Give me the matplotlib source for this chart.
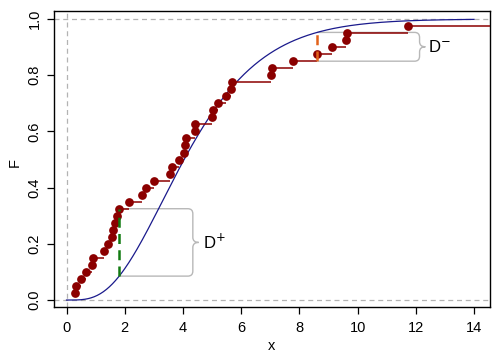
import matplotlib
matplotlib.use("Agg")
import matplotlib.pyplot as plt
from matplotlib.path import Path
from matplotlib.patches import PathPatch
import numpy as np

plt.rcParams['font.family'] = ['Liberation Sans', 'DejaVu Sans']

# sample (n = 40, the largest value lies beyond the plotted range)
sample_x = [0.30, 0.34, 0.50, 0.67, 0.87, 0.92, 1.29, 1.42, 1.56, 1.60,
            1.66, 1.72, 1.81, 2.15, 2.60, 2.72, 3.01, 3.56, 3.64, 3.87,
            4.05, 4.08, 4.10, 4.41, 4.43, 5.01, 5.02, 5.19, 5.47, 5.65,
            5.69, 7.03, 7.07, 7.79, 8.61, 9.13, 9.61, 9.63, 11.74, 15.80]

# fitted gamma model (shape 4)
gamma_shape = 4
gamma_scale = 1.1
curve_range = [0, 14]

# positions (1-based rank) of D+ and D-
d_plus_rank = 13
d_minus_rank = 35

x_ticks = [0, 2, 4, 6, 8, 10, 12, 14]
y_ticks = [0.0, 0.2, 0.4, 0.6, 0.8, 1.0]


def gamma_cdf(x):
    y = np.asarray(x, dtype=float) / gamma_scale
    s = np.zeros_like(y)
    term = np.ones_like(y)
    for k in range(gamma_shape):
        if k > 0:
            term = term * y / k
        s = s + term
    return 1 - np.exp(-y) * s


def draw_brace(ax, x0, x1, y0, y1, rx=0.17, ry=0.018, tip=0.2):
    ym = (y0 + y1) / 2
    verts = [(x0, y1), (x1 - rx, y1), (x1, y1), (x1, y1 - ry),
             (x1, ym + ry), (x1, ym), (x1 + tip, ym),
             (x1, ym), (x1, ym - ry),
             (x1, y0 + ry), (x1, y0), (x1 - rx, y0), (x0, y0)]
    codes = [Path.MOVETO, Path.LINETO, Path.CURVE3, Path.CURVE3,
             Path.LINETO, Path.CURVE3, Path.CURVE3,
             Path.CURVE3, Path.CURVE3,
             Path.LINETO, Path.CURVE3, Path.CURVE3, Path.LINETO]
    ax.add_patch(PathPatch(Path(verts, codes), fill=False, edgecolor='#b8b8b8',
                           lw=1.0, zorder=1))
    return x1 + tip


fig = plt.figure(figsize=(5, 3.6), dpi=100)
ax = fig.add_axes([0.108, 0.147, 0.872, 0.822])

xs = np.array(sample_x)
n = len(xs)
levels = np.arange(1, n + 1) / n

# reference lines
ax.axhline(0, color='#b3b3b3', lw=0.9, ls=(0, (4, 3)), zorder=0)
ax.axhline(1, color='#b3b3b3', lw=0.9, ls=(0, (4, 3)), zorder=0)
ax.axvline(0, color='#b3b3b3', lw=0.9, ls=(0, (4, 3)), zorder=0)

# model curve
grid = np.linspace(curve_range[0], curve_range[1], 400)
ax.plot(grid, gamma_cdf(grid), color='#1a1a8c', lw=0.9, zorder=2)

# empirical cdf
ax.hlines(levels[:-1], xs[:-1], xs[1:], color='#8b0000', lw=1.1, zorder=3)
ax.plot(xs, levels, 'o', color='#8b0000', ms=6.3, mew=0, zorder=4)

# D+
xp = xs[d_plus_rank - 1]
fp = gamma_cdf(xp)
top_p = levels[d_plus_rank - 1]
ax.plot([xp, xp], [fp, top_p], color='#117a11', lw=1.8, ls=(0, (4, 2.5)), zorder=5)
tx = draw_brace(ax, xp, 4.34, fp, top_p)
ax.text(tx + 0.15, (fp + top_p) / 2, 'D$^{+}$', fontsize=12, ha='left', va='center')

# D-
xm = xs[d_minus_rank - 1]
fm = gamma_cdf(xm)
low_m = levels[d_minus_rank - 2]
ax.plot([xm, xm], [low_m, fm], color='#e2621b', lw=1.8, ls=(0, (4, 2.5)), zorder=5)
tx = draw_brace(ax, xm, 12.13, low_m, fm)
ax.text(tx + 0.1, (low_m + fm) / 2, 'D$^{-}$', fontsize=12, ha='left', va='center')

ax.set_xlim(-0.43, 14.55)
ax.set_ylim(-0.025, 1.028)
ax.set_xticks(x_ticks)
ax.set_yticks(y_ticks)
ax.set_yticklabels(['%.1f' % v for v in y_ticks], rotation=90, va='center')
ax.tick_params(length=5, width=0.9, labelsize=10.5, direction='out')
ax.tick_params(axis='x', pad=5)
ax.tick_params(axis='y', pad=4)
for sp in ax.spines.values():
    sp.set_linewidth(1.0)

fig.text(272 / 500, 1 - 346 / 360, 'x', fontsize=10.5, ha='center', va='center')
fig.text(15 / 500, 1 - 163 / 360, 'F', fontsize=10.5, ha='center', va='center', rotation=90)

fig.savefig('out.png', dpi=100)
